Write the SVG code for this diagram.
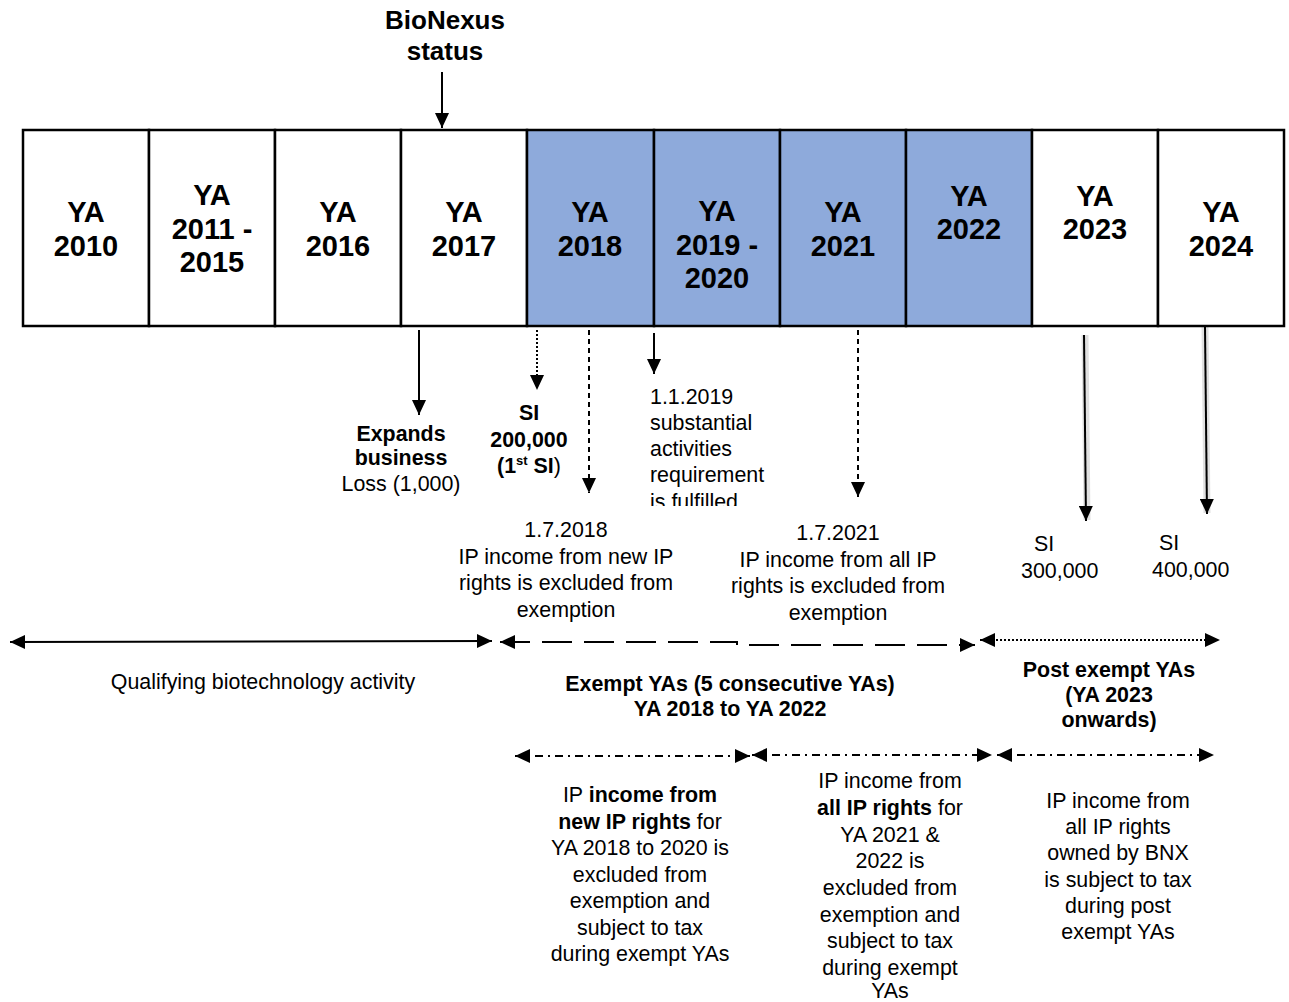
<svg xmlns="http://www.w3.org/2000/svg" width="1289" height="1002" viewBox="0 0 1289 1002">
<style>
text{font-family:"Liberation Sans",Arial,sans-serif;fill:#000}
.yr{font-size:29px;font-weight:bold;text-anchor:middle}
.t{font-size:21.4px}
.c{text-anchor:middle}
.b{font-weight:bold}
.box{stroke:#000;stroke-width:2.5;fill:#fff}
.blue{fill:#8EAADB}
.ln{stroke:#000;fill:none;stroke-width:2}
</style>
<defs>
<marker id="ah" markerUnits="userSpaceOnUse" markerWidth="16" markerHeight="14" refX="15" refY="7" orient="auto-start-reverse">
<path d="M0,0 L15,7 L0,14 z" fill="#000"/>
</marker>
<clipPath id="clip1"><rect x="640" y="380" width="140" height="126"/></clipPath>
</defs>

<g id="timeline">
<rect class="box" x="23" y="130" width="126" height="196"/>
<rect class="box" x="149" y="130" width="126" height="196"/>
<rect class="box" x="275" y="130" width="126" height="196"/>
<rect class="box" x="401" y="130" width="126" height="196"/>
<rect class="box blue" x="527" y="130" width="127" height="196"/>
<rect class="box blue" x="654" y="130" width="126" height="196"/>
<rect class="box blue" x="780" y="130" width="126" height="196"/>
<rect class="box blue" x="906" y="130" width="126" height="196"/>
<rect class="box" x="1032" y="130" width="126" height="196"/>
<rect class="box" x="1158" y="130" width="126" height="196"/>
</g>
<g id="ya2010"><text class="yr" x="86" y="222">YA</text><text class="yr" x="86" y="256">2010</text></g>
<g id="ya2011"><text class="yr" x="212" y="205">YA</text><text class="yr" x="212" y="239">2011 -</text><text class="yr" x="212" y="272">2015</text></g>
<g id="ya2016"><text class="yr" x="338" y="222">YA</text><text class="yr" x="338" y="256">2016</text></g>
<g id="ya2017"><text class="yr" x="464" y="222">YA</text><text class="yr" x="464" y="256">2017</text></g>
<g id="ya2018"><text class="yr" x="590" y="222">YA</text><text class="yr" x="590" y="256">2018</text></g>
<g id="ya2019"><text class="yr" x="717" y="221">YA</text><text class="yr" x="717" y="255">2019 -</text><text class="yr" x="717" y="288">2020</text></g>
<g id="ya2021"><text class="yr" x="843" y="222">YA</text><text class="yr" x="843" y="256">2021</text></g>
<g id="ya2022"><text class="yr" x="969" y="206">YA</text><text class="yr" x="969" y="239">2022</text></g>
<g id="ya2023"><text class="yr" x="1095" y="206">YA</text><text class="yr" x="1095" y="239">2023</text></g>
<g id="ya2024"><text class="yr" x="1221" y="222">YA</text><text class="yr" x="1221" y="256">2024</text></g>

<g id="bionexus">
<text class="b c" x="445" y="29" font-size="26">BioNexus</text>
<text class="b c" x="445" y="60" font-size="26">status</text>
</g>

<g id="connectors">
<line class="ln" x1="442" y1="72" x2="442" y2="128" marker-end="url(#ah)"/>
<line class="ln" x1="419" y1="330" x2="419" y2="415" marker-end="url(#ah)"/>
<line class="ln" x1="537" y1="330" x2="537" y2="390" stroke-dasharray="2,2" marker-end="url(#ah)"/>
<line class="ln" x1="589" y1="330" x2="589" y2="493" stroke-dasharray="5,4" stroke-width="1.5" marker-end="url(#ah)"/>
<line class="ln" x1="654" y1="333" x2="654" y2="374" marker-end="url(#ah)"/>
<line class="ln" x1="858" y1="330" x2="858" y2="497" stroke-dasharray="5,4" stroke-width="1.5" marker-end="url(#ah)"/>
<line x1="1085" y1="335" x2="1087" y2="520" stroke="#000" stroke-opacity="0.12" stroke-width="7"/>
<line class="ln" x1="1084" y1="335" x2="1086" y2="521" marker-end="url(#ah)"/>
<line x1="1205" y1="327" x2="1207" y2="513" stroke="#000" stroke-opacity="0.12" stroke-width="7"/>
<line class="ln" x1="1205" y1="327" x2="1207" y2="514" marker-end="url(#ah)"/>
<line class="ln" x1="10" y1="642" x2="492" y2="641" marker-start="url(#ah)" marker-end="url(#ah)"/>
<path class="ln" d="M500,642 L737,642 L737,645 L975,645" stroke-width="4" stroke-dasharray="30,12" marker-start="url(#ah)" marker-end="url(#ah)"/>
<line class="ln" x1="980" y1="640" x2="1220" y2="640" stroke-width="2.5" stroke-dasharray="2,2" marker-start="url(#ah)" marker-end="url(#ah)"/>
<line class="ln" x1="515" y1="756" x2="750" y2="756" stroke-width="1.8" stroke-dasharray="8,5,2,5" marker-start="url(#ah)" marker-end="url(#ah)"/>
<line class="ln" x1="752" y1="755" x2="992" y2="755" stroke-width="1.8" stroke-dasharray="8,5,2,5" marker-start="url(#ah)" marker-end="url(#ah)"/>
<line class="ln" x1="997" y1="755" x2="1214" y2="755" stroke-width="1.8" stroke-dasharray="8,5,2,5" marker-start="url(#ah)" marker-end="url(#ah)"/>
</g>

<g id="expands">
<text class="t b c" x="401" y="441">Expands</text>
<text class="t b c" x="401" y="465">business</text>
<text class="t c" x="401" y="491">Loss (1,000)</text>
</g>
<g id="si1">
<text class="t b c" x="529" y="420">SI</text>
<text class="t b c" x="529" y="447">200,000</text>
<text class="t b c" x="529" y="473">(1<tspan font-size="13" dy="-8">st</tspan><tspan dy="8"> SI</tspan><tspan font-weight="normal">)</tspan></text>
</g>
<g id="substantial" clip-path="url(#clip1)">
<text class="t" x="650" y="404">1.1.2019</text>
<text class="t" x="650" y="430">substantial</text>
<text class="t" x="650" y="456">activities</text>
<text class="t" x="650" y="482">requirement</text>
<text class="t" x="650" y="509">is fulfilled</text>
</g>
<g id="note2018">
<text class="t c" x="566" y="537">1.7.2018</text>
<text class="t c" x="566" y="564">IP income from new IP</text>
<text class="t c" x="566" y="590">rights is excluded from</text>
<text class="t c" x="566" y="617">exemption</text>
</g>
<g id="note2021">
<text class="t c" x="838" y="540">1.7.2021</text>
<text class="t c" x="838" y="567">IP income from all IP</text>
<text class="t c" x="838" y="593">rights is excluded from</text>
<text class="t c" x="838" y="620">exemption</text>
</g>
<g id="si3">
<text class="t" x="1034" y="551">SI</text>
<text class="t" x="1021" y="578">300,000</text>
</g>
<g id="si4">
<text class="t" x="1159" y="550">SI</text>
<text class="t" x="1152" y="577">400,000</text>
</g>
<g id="qualifying">
<text class="t c" x="263" y="689">Qualifying biotechnology activity</text>
</g>
<g id="exempt">
<text class="t b c" x="730" y="691">Exempt YAs (5 consecutive YAs)</text>
<text class="t b c" x="730" y="716">YA 2018 to YA 2022</text>
</g>
<g id="post">
<text class="t b c" x="1109" y="677">Post exempt YAs</text>
<text class="t b c" x="1109" y="702">(YA 2023</text>
<text class="t b c" x="1109" y="727">onwards)</text>
</g>
<g id="noteNew">
<text class="t c" x="640" y="802">IP <tspan font-weight="bold">income from</tspan></text>
<text class="t c" x="640" y="829"><tspan font-weight="bold">new IP rights</tspan> for</text>
<text class="t c" x="640" y="855">YA 2018 to 2020 is</text>
<text class="t c" x="640" y="882">excluded from</text>
<text class="t c" x="640" y="908">exemption and</text>
<text class="t c" x="640" y="935">subject to tax</text>
<text class="t c" x="640" y="961">during exempt YAs</text>
</g>
<g id="noteAll">
<text class="t c" x="890" y="788">IP income from</text>
<text class="t c" x="890" y="815"><tspan font-weight="bold">all IP rights</tspan> for</text>
<text class="t c" x="890" y="842">YA 2021 &amp;</text>
<text class="t c" x="890" y="868">2022 is</text>
<text class="t c" x="890" y="895">excluded from</text>
<text class="t c" x="890" y="922">exemption and</text>
<text class="t c" x="890" y="948">subject to tax</text>
<text class="t c" x="890" y="975">during exempt</text>
<text class="t c" x="890" y="998">YAs</text>
</g>
<g id="notePost">
<text class="t c" x="1118" y="808">IP income  from</text>
<text class="t c" x="1118" y="834">all IP rights</text>
<text class="t c" x="1118" y="860">owned by BNX</text>
<text class="t c" x="1118" y="887">is subject to tax</text>
<text class="t c" x="1118" y="913">during post</text>
<text class="t c" x="1118" y="939">exempt YAs</text>
</g>
</svg>
